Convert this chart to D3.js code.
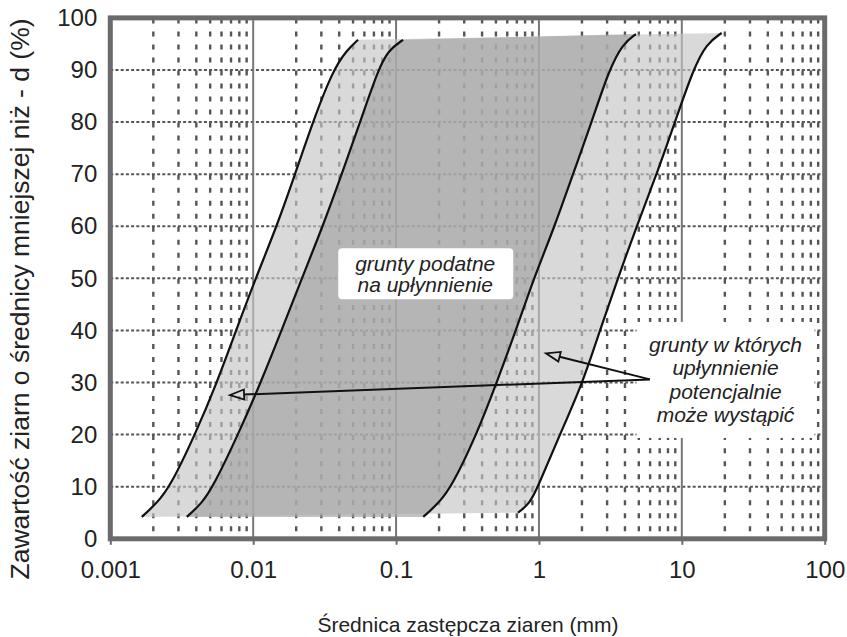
<!DOCTYPE html>
<html lang="en">
<head>
  <meta charset="utf-8">
  <title>Krzywe uziarnienia - upłynnienie</title>
  <script src="https://d3js.org/d3.v7.min.js"></script>
  <style>
    body { margin: 0; background: #fff; }
    text { font-family: "Liberation Sans", Arial, sans-serif; fill: #222; }
  </style>
</head>
<body>
  <div id="chart"></div>

  <script>
    // axis ticks
    var xTicks = [0.001, 0.01, 0.1, 1, 10, 100];
    var xTickLabels = ["0.001", "0.01", "0.1", "1", "10", "100"];
    var yTicks = [0, 10, 20, 30, 40, 50, 60, 70, 80, 90, 100];

    // grading curves: diameter (mm) and percent finer
    var curve1D = [0.00166, 0.00211, 0.00262, 0.00392, 0.00558, 0.00759, 0.0104, 0.01463, 0.01965, 0.0261, 0.0362, 0.0452, 0.0542];
    var curve1P = [4.2, 6.8, 10, 20, 30, 40, 50, 60, 70, 80, 90, 93.8, 95.8];
    var curve2D = [0.00343, 0.00436, 0.00524, 0.00784, 0.0113, 0.0158, 0.0219, 0.0307, 0.0417, 0.056, 0.0748, 0.0882, 0.112];
    var curve2P = [4.2, 6.8, 10, 20, 30, 40, 50, 60, 70, 80, 90, 93.8, 95.8];
    var curve3D = [0.155, 0.198, 0.245, 0.366, 0.506, 0.69, 0.92, 1.29, 1.73, 2.34, 3.09, 3.87, 4.78];
    var curve3P = [4.2, 6.8, 10, 20, 30, 40, 50, 60, 70, 80, 90, 95.1, 96.9];
    var curve4D = [0.713, 0.865, 0.984, 1.4, 2.03, 2.67, 3.57, 4.83, 6.67, 8.95, 11.97, 14.9, 19.0];
    var curve4P = [5.0, 6.8, 10, 20, 30, 40, 50, 60, 70, 80, 90, 95.1, 97.1];

    // annotations (anchor points in data units)
    var innerLabel = ["grunty podatne", "na upłynnienie"];
    var innerLabelAt = [0.16, 51];
    var outerLabel = ["grunty w których", "upłynnienie", "potencjalnie", "może wystąpić"];
    var outerLabelAt = [19.9, 30.5];
    var arrowFrom = [5.98, 30.6];
    var arrowTips = [[1.12, 35.6], [0.00689, 27.6]];

    var W = 847, H = 637;
    var svg = d3.select("#chart").append("svg")
      .attr("width", W).attr("height", H);

    var x = d3.scaleLog().domain([0.001, 100]).range([110.3, 824.7]);
    var y = d3.scaleLinear().domain([0, 100]).range([538.8, 17.9]);

    var gridColor = "#555";
    var grid = svg.append("g");

    // minor vertical dashed lines 2..9 in every decade
    var minors = [];
    for (var e = -3; e < 2; e++) {
      for (var m = 2; m <= 9; m++) minors.push(m * Math.pow(10, e));
    }
    var period = (y(0) - y(100)) / 40;
    grid.selectAll(".minor").data(minors).enter().append("line")
      .attr("x1", function (d) { return x(d); })
      .attr("x2", function (d) { return x(d); })
      .attr("y1", y(100) + 0.5).attr("y2", y(0))
      .attr("stroke", gridColor).attr("stroke-width", 2.4)
      .attr("stroke-dasharray", "5," + (period - 5));

    // horizontal dotted lines
    grid.selectAll(".hline").data(yTicks.slice(1, -1)).enter().append("line")
      .attr("x1", x(0.001)).attr("x2", x(100))
      .attr("y1", function (d) { return y(d); })
      .attr("y2", function (d) { return y(d); })
      .attr("stroke", gridColor).attr("stroke-width", 2)
      .attr("stroke-dasharray", "3,2.2");

    // decade lines
    grid.selectAll(".decade").data(xTicks.slice(1, -1)).enter().append("line")
      .attr("x1", function (d) { return x(d); })
      .attr("x2", function (d) { return x(d); })
      .attr("y1", y(100)).attr("y2", y(0))
      .attr("stroke", "#777").attr("stroke-width", 2);

    var curves = [
      curve1D.map(function (d, i) { return [d, curve1P[i]]; }),
      curve2D.map(function (d, i) { return [d, curve2P[i]]; }),
      curve3D.map(function (d, i) { return [d, curve3P[i]]; }),
      curve4D.map(function (d, i) { return [d, curve4P[i]]; })
    ];

    var line = d3.line()
      .x(function (d) { return x(d[0]); })
      .y(function (d) { return y(d[1]); })
      .curve(d3.curveBasis);

    function band(a, b) {
      var pa = line(a);
      var pb = line(b.slice().reverse());
      return pa + "L" + pb.substring(1) + "Z";
    }

    // light outer band and darker inner band
    svg.append("path").attr("d", band(curves[0], curves[3]))
      .attr("fill", "rgb(196,196,196)").attr("fill-opacity", 0.65);
    svg.append("path").attr("d", band(curves[1], curves[2]))
      .attr("fill", "rgb(162,162,162)").attr("fill-opacity", 0.65);

    svg.selectAll(".curve").data(curves).enter().append("path")
      .attr("d", line)
      .attr("fill", "none").attr("stroke", "#111").attr("stroke-width", 2.2);

    // frame
    svg.append("rect")
      .attr("x", x(0.001)).attr("y", y(100))
      .attr("width", x(100) - x(0.001)).attr("height", y(0) - y(100))
      .attr("fill", "none").attr("stroke", "#6b6b6b").attr("stroke-width", 5);

    // axes
    var xAxis = svg.append("g").attr("transform", "translate(0," + y(0) + ")")
      .call(d3.axisBottom(x).tickValues(xTicks)
        .tickFormat(function (d, i) { return xTickLabels[i]; })
        .tickSize(6).tickSizeOuter(0).tickPadding(16));
    xAxis.select(".domain").remove();
    xAxis.selectAll(".tick line").attr("stroke", "#6b6b6b").attr("stroke-width", 2);
    xAxis.selectAll("text").attr("font-size", 24).attr("fill", "#222")
      .attr("font-family", "Liberation Sans, Arial, sans-serif");

    var yAxis = svg.append("g").attr("transform", "translate(" + x(0.001) + ",0)")
      .call(d3.axisLeft(y).tickValues(yTicks).tickSize(0).tickPadding(13));
    yAxis.select(".domain").remove();
    yAxis.selectAll("text").attr("font-size", 24).attr("fill", "#222")
      .attr("font-family", "Liberation Sans, Arial, sans-serif");

    // axis titles
    svg.append("text")
      .attr("x", 468).attr("y", 632)
      .attr("text-anchor", "middle").attr("font-size", 21)
      .text("Średnica zastępcza ziaren (mm)");
    svg.append("text")
      .attr("transform", "translate(29,299) rotate(-90)")
      .attr("text-anchor", "middle").attr("font-size", 26.5)
      .text("Zawartość ziarn o średnicy mniejszej niż - d (%)");

    // inner label box
    var ix = x(innerLabelAt[0]), iy = y(innerLabelAt[1]);
    svg.append("rect")
      .attr("x", ix - 87).attr("y", iy - 25).attr("width", 175).attr("height", 51)
      .attr("rx", 4).attr("fill", "#fff");
    svg.append("g").selectAll("text").data(innerLabel).enter().append("text")
      .attr("x", ix).attr("y", function (d, i) { return iy - 2.5 + i * 21; })
      .attr("text-anchor", "middle").attr("font-size", 21).attr("font-style", "italic")
      .text(function (d) { return d; });

    // outer label box
    var ox = x(outerLabelAt[0]), oy = y(outerLabelAt[1]);
    svg.append("rect")
      .attr("x", ox - 88).attr("y", oy - 58).attr("width", 178).attr("height", 116)
      .attr("fill", "#fff");
    svg.append("g").selectAll("text").data(outerLabel).enter().append("text")
      .attr("x", ox + 1).attr("y", function (d, i) { return oy - 28 + i * 23.4; })
      .attr("text-anchor", "middle").attr("font-size", 21).attr("font-style", "italic")
      .text(function (d) { return d; });

    // arrows
    var fx = x(arrowFrom[0]), fy = y(arrowFrom[1]);
    arrowTips.forEach(function (t) {
      var tx = x(t[0]), ty = y(t[1]);
      var ang = Math.atan2(ty - fy, tx - fx);
      var len = 14, half = 5;
      var bx = tx - len * Math.cos(ang), by = ty - len * Math.sin(ang);
      svg.append("line")
        .attr("x1", fx).attr("y1", fy).attr("x2", bx).attr("y2", by)
        .attr("stroke", "#111").attr("stroke-width", 2);
      var px = -Math.sin(ang) * half, py = Math.cos(ang) * half;
      svg.append("path")
        .attr("d", "M" + tx + "," + ty + "L" + (bx + px) + "," + (by + py) +
          "L" + (bx - px) + "," + (by - py) + "Z")
        .attr("fill", "none").attr("stroke", "#111").attr("stroke-width", 1.8);
    });
  </script>
</body>
</html>
